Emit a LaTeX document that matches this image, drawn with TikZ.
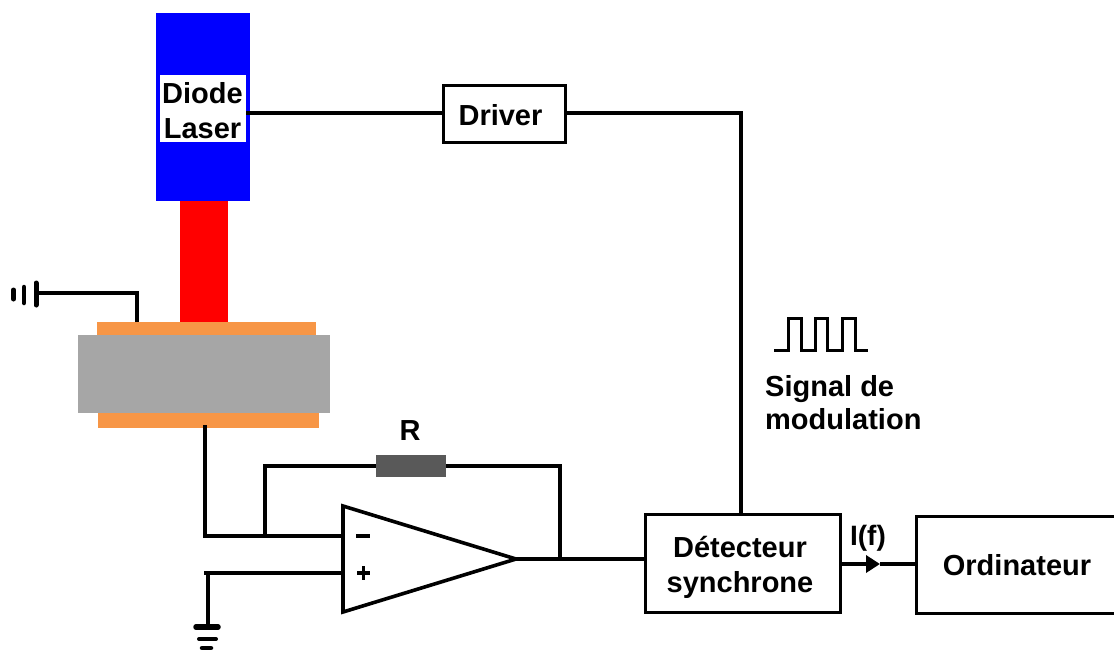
\documentclass[tikz,border=0pt]{standalone}
\usepackage{fontspec}
\setmainfont{Liberation Sans}
\usetikzlibrary{arrows.meta}
\definecolor{orangeplate}{RGB}{247,150,70}
\definecolor{graycrystal}{RGB}{166,166,166}
\definecolor{grayres}{RGB}{89,89,89}
\tikzset{
  wire/.style={line width=3.6pt},
  thinwire/.style={line width=3pt},
  solid block/.style={inner sep=0pt,outer sep=0pt,anchor=north west},
  box/.style={draw,line width=3pt,inner sep=0pt,outer sep=0pt,align=center,anchor=north west},
  label/.style={inner sep=0pt,align=center,font=\fontsize{29}{35}\selectfont\bfseries},
}
\begin{document}
\begin{tikzpicture}[x=1pt,y=-1pt]
    \useasboundingbox (0,0) rectangle (1114,649);
    % laser and sample
    \node[solid block,fill=blue,minimum width=94pt,minimum height=188pt] (diode) at (156,13) {};
    \node[solid block,fill=red,minimum width=48pt,minimum height=121pt] (beam) at (180,201) {};
    \node[solid block,fill=orangeplate,minimum width=219pt,minimum height=14pt] (platetop) at (97,322) {};
    \node[solid block,fill=orangeplate,minimum width=221pt,minimum height=16pt] (platebot) at (98,412) {};
    \node[solid block,fill=graycrystal,minimum width=252pt,minimum height=78pt] (crystal) at (78,335) {};
    \node[solid block,fill=white,minimum width=86pt,minimum height=67pt] (diodelabel) at (160,75) {};
    \node[label] at (202.5,110.5) {Diode\\Laser};
    % boxes
    \node[box,minimum width=122pt,minimum height=57pt] (driver) at (443,85) {};
    \node[label] at (500.5,115) {Driver};
    \node[box,minimum width=195pt,minimum height=98pt] (detector) at (645,514) {};
    \node[label] at (740,567) {Détecteur\\synchrone};
    \node[box,minimum width=204pt,minimum height=97pt] (computer) at (916,516) {};
    \node[label] at (1017,565) {Ordinateur};
    \node[solid block,fill=grayres,minimum width=70pt,minimum height=22pt] (res) at (376,455) {};
    \node[label] (rlabel) at (410,431) {R};
    % amplifier
    \coordinate (ampa) at (343,506);
    \coordinate (ampb) at (343,612);
    \coordinate (ampout) at (516,559);
    \coordinate (inminus) at (343,536);
    \coordinate (inplus) at (343,573);
    \draw[wire,line join=miter] (ampa) -- (ampb) -- (ampout) -- cycle;
    \draw[wire] (356,536) -- (370,536);
    \draw[wire] (357,573) -- (370,573);
    \draw[wire] (363.5,566) -- (363.5,580);
    % wires
    \coordinate (plateout) at (205,425);
    \coordinate (jleft) at (265,536);
    \coordinate (jright) at (560,559);
    \draw[wire] (plateout) -- (205,536) -- (inminus);
    \draw[wire] (jleft) |- (res.west);
    \draw[wire] (res.east) -| (jright);
    \draw[wire] (ampout) -- (detector.west |- ampout);
    \draw[wire] (diodelabel.east |- 0,113) -- (driver.west |- 0,113);
    \draw[wire] (driver.east |- 0,113) -| (detector.north -| 741,0);
    % ground of the top plate
    \coordinate (topwire) at (137,322);
    \coordinate (gndleft) at (36,293);
    \draw[wire] (topwire) |- (gndleft);
    \draw[line width=5pt,line cap=round] (36,283) -- (36,305);
    \draw[line width=4.5pt,line cap=round] (24,287) -- (24,303);
    \draw[line width=5pt,line cap=round] (13.5,290) -- (13.5,299);
    % ground of the plus input
    \coordinate (gndbot) at (208,627);
    \draw[wire] (204,573) -- (inplus);
    \draw[wire] (208,573) -- (gndbot);
    \draw[line width=5.5pt,line cap=round] (196,627) -- (218,627);
    \draw[line width=4pt,line cap=round] (199,639) -- (216,639);
    \draw[line width=4.5pt,line cap=round] (202,648) -- (211,648);
    % output signal
    \coordinate (arrowmid) at (880,564);
    \draw[wire,-{Triangle[length=14pt,width=17pt]}] (detector.east |- arrowmid) -- (arrowmid);
    \draw[wire] (arrowmid) -- (computer.west |- arrowmid);
    \node[label,font=\fontsize{28}{33}\selectfont\bfseries] at (868,538) {I(f)};
    % modulation
    \draw[thinwire] (774,350) -- (788,350) -- (788,318) -- (801,318) -- (801,350) -- (815,350) -- (815,318) -- (827,318)
      -- (827,350) -- (842,350) -- (842,318) -- (855,318) -- (855,350) -- (868,350);
    \node[label,align=left,anchor=north west] at (765,375) {Signal de\\[-2pt]modulation};
\end{tikzpicture}
\end{document}
